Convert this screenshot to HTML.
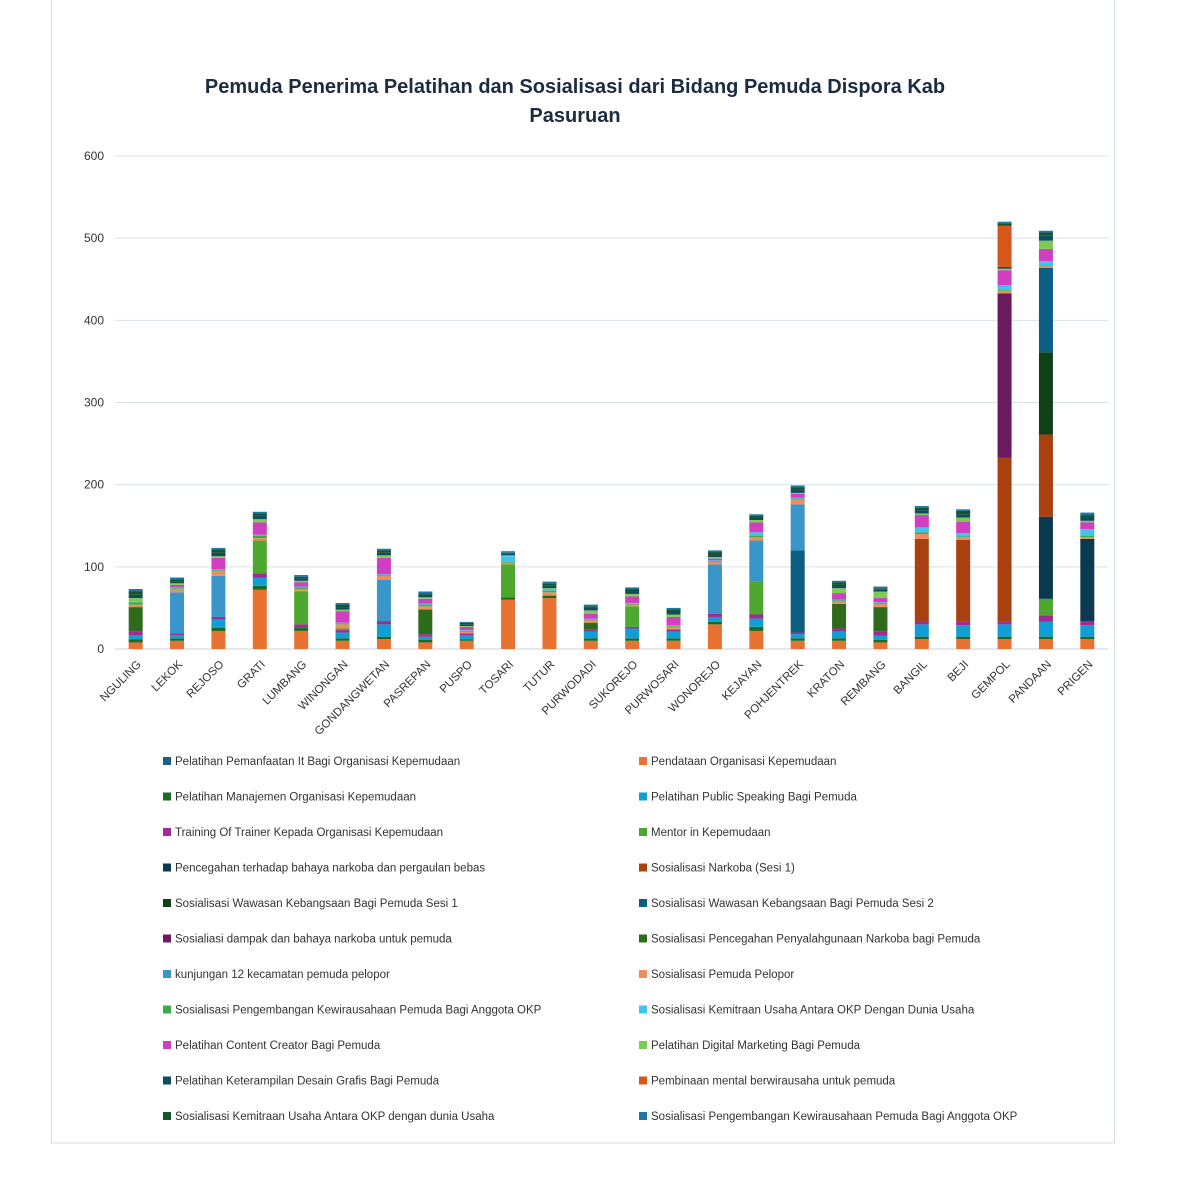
<!DOCTYPE html>
<html><head><meta charset="utf-8"><style>
body{margin:0;background:#fff;width:1184px;height:1184px;overflow:hidden;font-family:"Liberation Sans",sans-serif}
</style></head><body>
<svg id="chart" width="1184" height="1184" xmlns="http://www.w3.org/2000/svg" font-family="Liberation Sans, sans-serif">
<rect x="51.5" y="-2" width="1063" height="1145" fill="#fff" stroke="#d5dde5"/>
<text x="575" y="93" text-anchor="middle" font-size="20" font-weight="bold" fill="#1c2b3f">Pemuda Penerima Pelatihan dan Sosialisasi dari Bidang Pemuda Dispora Kab</text>
<text x="575" y="122" text-anchor="middle" font-size="20" font-weight="bold" fill="#1c2b3f">Pasuruan</text>
<g id="grid"></g><g id="bars"></g><g id="xlabels"></g><g id="legend"></g>
</svg>
<script>
const categories=["NGULING","LEKOK","REJOSO","GRATI","LUMBANG","WINONGAN","GONDANGWETAN","PASREPAN","PUSPO","TOSARI","TUTUR","PURWODADI","SUKOREJO","PURWOSARI","WONOREJO","KEJAYAN","POHJENTREK","KRATON","REMBANG","BANGIL","BEJI","GEMPOL","PANDAAN","PRIGEN"];
const yTicks=[0,100,200,300,400,500,600];
const seriesNames=["Pelatihan Pemanfaatan It Bagi Organisasi Kepemudaan","Pendataan Organisasi Kepemudaan","Pelatihan Manajemen Organisasi Kepemudaan","Pelatihan Public Speaking Bagi Pemuda","Training Of Trainer Kepada Organisasi Kepemudaan","Mentor in Kepemudaan","Pencegahan terhadap bahaya narkoba dan pergaulan bebas","Sosialisasi Narkoba (Sesi 1)","Sosialisasi Wawasan Kebangsaan Bagi Pemuda Sesi 1","Sosialisasi Wawasan Kebangsaan Bagi Pemuda Sesi 2","Sosialiasi dampak dan bahaya narkoba untuk pemuda","Sosialisasi Pencegahan Penyalahgunaan Narkoba bagi Pemuda","kunjungan 12 kecamatan pemuda pelopor","Sosialisasi Pemuda Pelopor","Sosialisasi Pengembangan Kewirausahaan Pemuda Bagi Anggota OKP","Sosialisasi Kemitraan Usaha Antara OKP Dengan Dunia Usaha","Pelatihan Content Creator Bagi Pemuda","Pelatihan Digital Marketing Bagi Pemuda","Pelatihan Keterampilan Desain Grafis Bagi Pemuda","Pembinaan mental berwirausaha untuk pemuda","Sosialisasi Kemitraan Usaha Antara OKP dengan dunia Usaha","Sosialisasi Pengembangan Kewirausahaan Pemuda Bagi Anggota OKP"];
const s0=[0,0,0,0,0,0,0,0,0,0,0,0,0,0,0,0,0,0,0,0,0,0,0,0];
const s1=[8,10,22,72,22,10,12,8,10,60,62,10,10,10,30,22,10,10,8,12,12,12,12,12];
const s2=[4,3,4,5,4,3,3,3,2,3,3,3,3,3,3,5,3,3,3,3,3,3,3,3];
const s3=[5,4,10,10,0,7,15,4,5,0,0,8,12,8,6,10,5,8,5,15,14,15,18,14];
const s4=[4,2,3,5,4,3,4,3,2,0,0,3,2,3,4,5,2,4,5,4,4,3,8,5];
const s5=[0,0,0,40,40,2,0,0,0,40,0,0,25,0,0,40,0,0,0,0,0,0,20,0];
const s6=[0,0,0,0,0,0,0,0,0,0,0,0,0,0,0,0,0,0,0,0,0,0,100,100];
const s7=[0,0,0,0,0,0,0,0,0,0,0,0,0,0,0,0,0,0,0,100,100,200,100,0];
const s8=[0,0,0,0,0,0,0,0,0,0,0,0,0,0,0,0,0,0,0,0,0,0,100,0];
const s9=[0,0,0,0,0,0,0,0,0,0,0,0,0,0,0,0,100,0,0,0,0,0,103,0];
const s10=[0,0,0,0,0,0,0,0,0,0,0,0,0,0,0,0,0,0,0,0,0,200,0,0];
const s11=[30,0,0,0,0,0,0,30,0,0,0,8,0,0,0,0,0,30,30,0,0,0,0,0];
const s12=[0,50,50,0,0,0,50,0,0,0,0,0,0,0,60,50,56,0,0,0,0,0,0,0];
const s13=[3,4,6,3,3,5,5,4,2,2,4,3,2,3,3,4,6,3,4,6,3,3,2,2];
const s14=[3,1,1,3,2,1,1,2,1,1,2,1,1,1,1,2,1,1,1,2,1,1,1,2];
const s15=[1,1,1,1,1,1,1,1,1,7,2,1,1,1,1,4,1,1,1,6,4,6,5,8];
const s16=[0,3,14,15,5,14,20,6,4,0,0,6,8,10,2,12,5,8,5,15,14,18,15,8];
const s17=[4,2,2,4,2,2,3,2,1,1,1,4,3,3,2,3,1,6,8,2,5,2,10,2];
const s18=[4,2,4,4,3,3,3,3,2,2,3,3,3,3,3,3,4,4,2,4,4,2,6,4];
const s19=[0,0,0,0,0,0,0,0,0,0,0,0,0,0,0,0,0,0,0,0,0,50,0,0];
const s20=[4,3,4,3,2,3,3,2,2,1,3,2,3,3,3,2,3,3,2,3,4,3,4,3];
const s21=[3,2,2,2,2,2,2,2,1,2,2,2,2,2,2,2,2,2,2,2,2,2,2,3];
const series=[s0,s1,s2,s3,s4,s5,s6,s7,s8,s9,s10,s11,s12,s13,s14,s15,s16,s17,s18,s19,s20,s21];
const colors=["#1f5f86","#e97132","#196b24","#0f9ed5","#a02b93","#4ea72e","#0b3a4f","#a8400f","#0f4016","#0a5e80","#6a1b60","#2f6b1c","#3a95c9","#ef8d5c","#3cab48","#3fc3f0","#d03fc0","#7ccb55","#124a63","#d5571a","#15552a","#1a77a6"];
const NS="http://www.w3.org/2000/svg";
const X0=115,X1=1108,Y0=649,Y600=156;
const y=v=>Y0-(v/600)*(Y0-Y600);
const band=(X1-X0)/categories.length;
const x=i=>X0+band*(i+0.5);
function mk(t,a,p){const e=document.createElementNS(NS,t);for(const k in a)e.setAttribute(k,a[k]);p.appendChild(e);return e;}
const grid=document.getElementById('grid');
yTicks.forEach(t=>{
 const l=mk('line',{x1:X0,x2:X1,y1:y(t),y2:y(t),stroke:t===0?'#c9d3dd':'#d9e1e8','stroke-width':1},grid);
 
 
 const tx=mk('text',{x:104,y:y(t)+4,'text-anchor':'end','font-size':12,fill:'#333'},grid);
 tx.textContent=t;
 
 
});
const bars=document.getElementById('bars');
const bw=14;
categories.forEach((c,i)=>{
 let acc=0;
 series.forEach((s,k)=>{
  const v=s[i];if(!v)return;
  const r=mk('rect',{x:x(i)-bw/2,y:y(acc+v),width:bw,height:y(acc)-y(acc+v),fill:colors[k]},bars);
  
  
  acc+=v;
 });
 const t=mk('text',{x:x(i)+6,y:665,'text-anchor':'end','font-size':11.5,fill:'#333',transform:`rotate(-45 ${x(i)+6} 665)`},document.getElementById('xlabels'));
 t.textContent=c;
 
 
});
const lg=document.getElementById('legend');
seriesNames.forEach((n,k)=>{
 const col=k%2,row=Math.floor(k/2);
 const lx=col?639:163,ly=761+row*35.5;
 const g=mk('g',{},lg);
 
 
 mk('rect',{x:lx,y:ly-4,width:8,height:8,fill:colors[k]},g);
 const t=mk('text',{x:lx+12,y:ly+4,'font-size':11.5,fill:'#333'},g);
 t.textContent=n;
});
</script>
</body></html>
